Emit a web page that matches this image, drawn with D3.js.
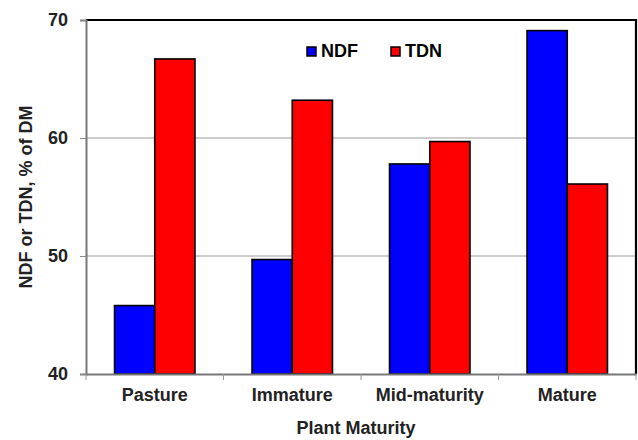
<!DOCTYPE html>
<html><head><meta charset="utf-8">
<script src="https://cdn.jsdelivr.net/npm/d3@7"></script>
<style>body{margin:0;background:#fff}svg{display:block}</style>
</head><body><svg id="c" width="638" height="440"></svg>
<script>
const categories = ["Pasture", "Immature", "Mid-maturity", "Mature"];
const seriesNames = ["NDF", "TDN"];
const ndf = [45.8, 49.7, 57.8, 69.1];
const tdn = [66.7, 63.2, 59.7, 56.1];
const yTicks = [40, 50, 60, 70];
const colors = ["#0000ff", "#ff0000"];

const svg = d3.select("#c");
const L = 86, R = 636, T = 20, B = 374;
const font = "Arial, 'Liberation Sans', sans-serif";
const x = d3.scaleBand().domain(categories).range([L, R]).paddingInner(0).paddingOuter(0);
const y = d3.scaleLinear().domain([40, 70]).range([B, T]);
const groupW = x.bandwidth() * 0.585;
const xs = d3.scaleBand().domain(seriesNames).range([0, groupW]);
const data = categories.map((c, i) => ({c, vals: [ndf[i], tdn[i]]}));

// gridlines
svg.append("g").selectAll("line").data(yTicks.filter(t => t > 40 && t < 70)).join("line")
  .attr("x1", L).attr("x2", R).attr("y1", d => y(d)).attr("y2", d => y(d))
  .attr("stroke", "#9a9a9a").attr("stroke-width", 1);

// bars
const g = svg.append("g").selectAll("g").data(data).join("g")
  .attr("transform", d => `translate(${x(d.c) + (x.bandwidth() - groupW) / 2},0)`);
g.selectAll("rect").data(d => d.vals.map((v, j) => ({v, j}))).join("rect")
  .attr("x", d => xs(seriesNames[d.j])).attr("width", xs.bandwidth())
  .attr("y", d => y(d.v)).attr("height", d => B - y(d.v))
  .attr("fill", d => colors[d.j]).attr("stroke", "#000").attr("stroke-width", 1.6);

// frame top/right
svg.append("path").attr("d", `M${L},${T}H${R}V${B}`).attr("fill", "none").attr("stroke", "#000").attr("stroke-width", 2.2);

// y axis
const ya = svg.append("g").attr("transform", `translate(${L},0)`)
  .call(d3.axisLeft(y).tickValues(yTicks).tickSize(6).tickPadding(12).tickFormat(d3.format("d")));
ya.select(".domain").attr("stroke", "#777").attr("stroke-width", 2);
ya.selectAll(".tick line").attr("stroke", "#888");
ya.selectAll("text").attr("font-family", font).attr("font-size", 18).attr("font-weight", "bold").attr("fill", "#222");

// x axis
const xa = svg.append("g").attr("transform", `translate(0,${B})`)
  .call(d3.axisBottom(x).tickSize(0).tickPadding(14));
xa.select(".domain").attr("stroke", "#777").attr("stroke-width", 2);
xa.selectAll("text").attr("font-family", font).attr("font-size", 18).attr("font-weight", "bold").attr("fill", "#222");
svg.append("g").selectAll("line").data(d3.range(categories.length + 1)).join("line")
  .attr("x1", i => L + i * x.step()).attr("x2", i => L + i * x.step())
  .attr("y1", B).attr("y2", B + 6).attr("stroke", "#999").attr("stroke-width", 1);

// axis titles
svg.append("text").attr("x", 356).attr("y", 434).attr("text-anchor", "middle")
  .attr("font-family", font).attr("font-size", 18).attr("font-weight", "bold").attr("fill", "#222").text("Plant Maturity");
svg.append("text").attr("transform", `translate(32,${(T + B) / 2}) rotate(-90)`).attr("text-anchor", "middle")
  .attr("font-family", font).attr("font-size", 18).attr("font-weight", "bold").attr("fill", "#222").text("NDF or TDN, % of DM");

// legend
const legX = [307, 391];
const lg = svg.append("g").selectAll("g").data(seriesNames).join("g")
  .attr("transform", (d, i) => `translate(${legX[i]},47)`);
lg.append("rect").attr("width", 9).attr("height", 9).attr("fill", (d, i) => colors[i]).attr("stroke", "#000").attr("stroke-width", 1.5);
lg.append("text").attr("x", 14).attr("y", 10).attr("font-family", font).attr("font-size", 18).attr("font-weight", "bold").attr("fill", "#000").text(d => d);
</script></body></html>
